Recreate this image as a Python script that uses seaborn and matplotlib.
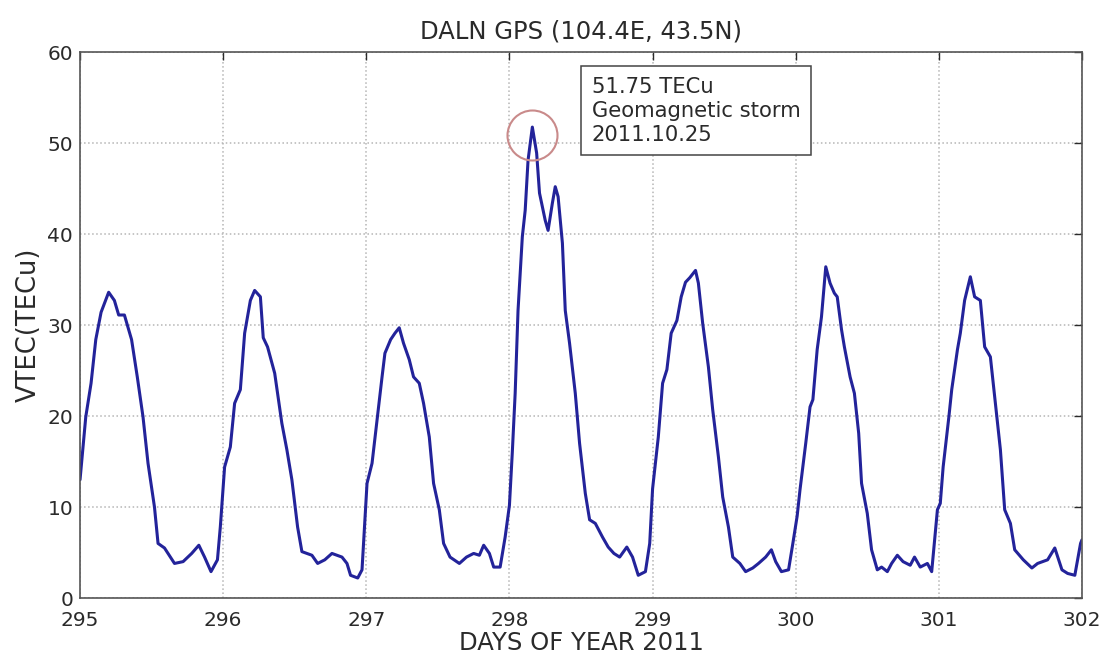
import matplotlib
matplotlib.use("Agg")
import matplotlib.pyplot as plt
import matplotlib.transforms as mtransforms
import numpy as np
import pandas as pd
import seaborn as sns

# Vertical TEC at the DALN GPS station, days 295-302 of 2011
days = [
    295.00, 295.04, 295.077, 295.11, 295.147, 295.20, 295.24, 295.27, 295.31,
    295.36, 295.40, 295.44, 295.475, 295.52, 295.545, 295.59, 295.66, 295.72,
    295.78, 295.83, 295.87, 295.915, 295.96,
    295.98, 296.01, 296.05, 296.08, 296.12, 296.15, 296.19, 296.22, 296.26,
    296.28, 296.31, 296.36, 296.41, 296.445, 296.48, 296.52, 296.55, 296.62,
    296.66, 296.71, 296.76, 296.83, 296.865, 296.89, 296.94, 296.97,
    297.005, 297.04, 297.075, 297.11, 297.13, 297.17, 297.20, 297.23, 297.26,
    297.30, 297.33, 297.37, 297.40, 297.44, 297.47, 297.51, 297.54, 297.585,
    297.65, 297.70, 297.75, 297.79, 297.82, 297.86, 297.89, 297.935, 297.97,
    298.00, 298.02, 298.04, 298.06, 298.09, 298.11, 298.13, 298.16, 298.19,
    298.21, 298.25, 298.27, 298.30, 298.32, 298.34, 298.37, 298.39, 298.42,
    298.46, 298.49, 298.53, 298.56, 298.60, 298.65, 298.69, 298.73, 298.77,
    298.82, 298.86, 298.90, 298.95,
    298.98, 299.00, 299.04, 299.07, 299.10, 299.13, 299.17, 299.20, 299.23,
    299.26, 299.30, 299.32, 299.35, 299.39, 299.42, 299.46, 299.49, 299.53,
    299.56, 299.61, 299.65, 299.70, 299.74, 299.79, 299.83, 299.86, 299.90,
    299.95,
    299.98, 300.01, 300.03, 300.07, 300.10, 300.12, 300.15, 300.18, 300.21,
    300.24, 300.27, 300.29, 300.32, 300.34, 300.38, 300.41, 300.44, 300.46,
    300.50, 300.53, 300.57, 300.60, 300.64, 300.67, 300.71, 300.75, 300.80,
    300.83, 300.87, 300.92, 300.95,
    300.99, 301.01, 301.03, 301.07, 301.09, 301.13, 301.15, 301.18, 301.22,
    301.25, 301.29, 301.32, 301.36, 301.39, 301.43, 301.46, 301.50, 301.53,
    301.59, 301.65, 301.69, 301.76, 301.81, 301.86, 301.90, 301.95, 301.99,
    302.00,
]
vtec = [
    13.0, 19.9, 23.6, 28.4, 31.4, 33.6, 32.7, 31.1, 31.1,
    28.4, 24.3, 19.9, 14.8, 10.0, 6.0, 5.5, 3.8, 4.0,
    4.9, 5.8, 4.5, 2.9, 4.2,
    7.8, 14.4, 16.6, 21.4, 22.9, 29.1, 32.7, 33.8, 33.1,
    28.6, 27.6, 24.7, 19.2, 16.3, 13.0, 7.8, 5.1, 4.7,
    3.8, 4.2, 4.9, 4.5, 3.8, 2.5, 2.2, 3.1,
    12.6, 14.8, 19.6, 24.3, 26.9, 28.4, 29.1, 29.7, 28.0,
    26.2, 24.3, 23.6, 21.4, 17.7, 12.6, 9.7, 6.0, 4.5,
    3.8, 4.5, 4.9, 4.7, 5.8, 4.9, 3.4, 3.4, 6.7,
    10.2, 16.0, 22.5, 31.6, 39.7, 42.6, 48.1, 51.75, 48.9,
    44.5, 41.5, 40.4, 43.4, 45.2, 44.1, 39.0, 31.6, 28.0,
    22.5, 17.0, 11.5, 8.6, 8.2, 6.7, 5.6, 4.9, 4.5,
    5.6, 4.5, 2.5, 2.9,
    6.0, 12.0, 17.7, 23.6, 25.1, 29.1, 30.5, 33.1, 34.7,
    35.2, 36.0, 34.6, 30.2, 25.4, 20.7, 15.5, 11.1, 7.8,
    4.5, 3.8, 2.9, 3.3, 3.8, 4.5, 5.3, 4.0, 2.9,
    3.1,
    6.0, 9.0, 11.9, 17.0, 21.0, 21.8, 27.3, 30.9, 36.4,
    34.6, 33.5, 33.1, 29.5, 27.6, 24.3, 22.5, 18.1, 12.6,
    9.3, 5.3, 3.1, 3.4, 2.9, 3.8, 4.7, 4.0, 3.6,
    4.5, 3.4, 3.8, 2.9,
    9.7, 10.4, 14.4, 19.9, 22.9, 27.3, 29.1, 32.7, 35.3,
    33.1, 32.7, 27.6, 26.5, 22.1, 16.3, 9.7, 8.2, 5.3,
    4.2, 3.3, 3.8, 4.2, 5.5, 3.1, 2.7, 2.5, 6.0,
    6.4,
]

x_ticks = [295, 296, 297, 298, 299, 300, 301, 302]
y_ticks = [0, 10, 20, 30, 40, 50, 60]
station_title = "DALN GPS (104.4E, 43.5N)"
x_label = "DAYS OF YEAR 2011"
y_label = "VTEC(TECu)"
storm_note = "51.75 TECu\nGeomagnetic storm\n2011.10.25"

df = pd.DataFrame({"day": days, "vtec": vtec})

sns.set_theme(style="white")
plt.rcParams["font.family"] = ["DejaVu Sans"]
plt.rcParams["xtick.direction"] = "in"
plt.rcParams["ytick.direction"] = "in"

fig = plt.figure(figsize=(11.07, 6.60), dpi=100)
ax = fig.add_axes([0.0723, 0.0939, 0.9051, 0.8273])

sns.lineplot(data=df, x="day", y="vtec", ax=ax, color="#23239a",
             linewidth=2.2, sort=False, estimator=None)

ax.set_xlim(x_ticks[0], x_ticks[-1])
ax.set_ylim(y_ticks[0], y_ticks[-1])
ax.set_xticks(x_ticks)
ax.set_yticks(y_ticks)
ax.tick_params(axis="both", labelsize=14.5, colors="#2a2a2a", length=6,
               width=1, top=True, right=True)
ax.tick_params(axis="x", pad=9)
ax.tick_params(axis="y", pad=5)
ax.grid(True, linestyle=":", color="#b5b5b5", linewidth=1.1)
for s in ax.spines.values():
    s.set_color("#555555")
    s.set_linewidth(1.2)

ax.set_xlabel(x_label, fontsize=17.5, color="#2a2a2a", labelpad=1)
ax.set_ylabel(y_label, fontsize=18.5, color="#2a2a2a", labelpad=4)
ax.set_title(station_title, fontsize=17.5, color="#2a2a2a", pad=10)

# circle around the storm-time maximum
i_max = int(np.argmax(vtec))
ring = mtransforms.offset_copy(ax.transData, fig=fig, x=0, y=-8, units="dots")
ax.plot([days[i_max]], [vtec[i_max]], marker="o", markersize=36,
        markerfacecolor="none", markeredgecolor="#c98a8a",
        markeredgewidth=1.5, transform=ring, zorder=4)

ax.text(0.5105, 0.955, storm_note, transform=ax.transAxes, fontsize=15.2,
        color="#2a2a2a", va="top", ha="left", linespacing=1.25,
        bbox=dict(boxstyle="square,pad=0.5", facecolor="white",
                  edgecolor="#444444", linewidth=1.1))

fig.savefig("out.png", dpi=100, facecolor="white")
